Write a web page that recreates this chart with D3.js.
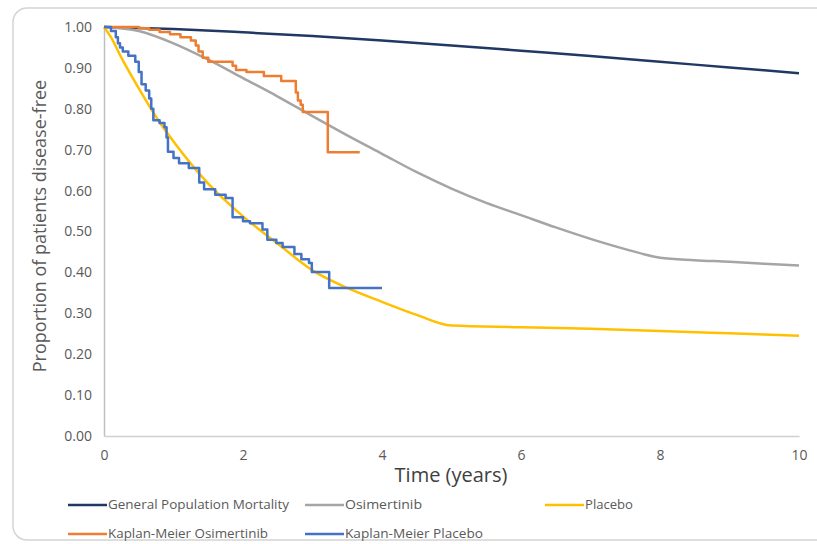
<!DOCTYPE html>
<html><head><meta charset="utf-8">
<script src="https://cdn.jsdelivr.net/npm/d3@7"></script>
<style>html,body{margin:0;padding:0;background:#fff;}svg{display:block;font-family:"Open Sans",sans-serif;}</style>
</head><body><svg id="c" width="817" height="544"></svg>
<script>
// ---- data ----
const yTicks = [0,0.1,0.2,0.3,0.4,0.5,0.6,0.7,0.8,0.9,1.0];
const xTicks = [0,2,4,6,8,10];
const genPopT = [0,1,2,3,4,5,6,7,8,9,10];
const genPopS = [1.0,0.995,0.987,0.978,0.967,0.955,0.942,0.929,0.915,0.901,0.887];
const osiT = [0,0.5,1,1.5,2,2.5,3,3.5,4,4.5,5,5.5,6,6.5,7,7.5,8,8.5,9,9.5,10];
const osiS = [1.0,0.99,0.96,0.92,0.875,0.83,0.782,0.735,0.69,0.645,0.605,0.57,0.54,0.51,0.482,0.457,0.436,0.43,0.426,0.421,0.417];
const plaT = [0,0.1,0.25,0.5,0.75,1,1.5,2,2.5,3,3.5,4,4.5,5,6,7,8,9,10];
const plaS = [1.0,0.975,0.925,0.85,0.78,0.72,0.617,0.537,0.47,0.405,0.362,0.328,0.296,0.27,0.266,0.262,0.257,0.251,0.245];
const kmOsiT = [0,0.5,0.65,0.8,0.95,1.1,1.25,1.32,1.36,1.42,1.5,1.85,1.9,2.05,2.3,2.55,2.76,2.79,2.83,2.86,3.22,3.68];
const kmOsiS = [1.0,0.997,0.993,0.988,0.982,0.975,0.967,0.955,0.94,0.925,0.915,0.905,0.895,0.89,0.88,0.868,0.84,0.82,0.81,0.792,0.694,0.694];
const kmPlaT = [0,0.1,0.17,0.2,0.23,0.27,0.35,0.45,0.5,0.54,0.6,0.65,0.68,0.71,0.8,0.87,0.9,0.92,1.0,1.08,1.22,1.37,1.44,1.6,1.75,1.85,2.0,2.1,2.28,2.35,2.48,2.57,2.74,2.84,2.95,2.99,3.24,4.0];
const kmPlaS = [1.0,0.99,0.975,0.96,0.95,0.94,0.93,0.915,0.89,0.86,0.845,0.825,0.8,0.772,0.765,0.755,0.73,0.695,0.68,0.667,0.655,0.62,0.603,0.59,0.582,0.535,0.525,0.52,0.505,0.48,0.472,0.462,0.445,0.432,0.423,0.401,0.362,0.362];
const seriesNames = ["General Population Mortality","Osimertinib","Placebo","Kaplan-Meier Osimertinib","Kaplan-Meier Placebo"];
const seriesColors = ["#1F3864","#A5A5A5","#FFC000","#ED7D31","#4472C4"];

const svg = d3.select("#c");
// frame
svg.append("rect").attr("x",13).attr("y",8).attr("width",840).attr("height",532).attr("rx",14)
  .attr("fill","none").attr("stroke","#d4d4d4").attr("stroke-width",1.5);

const x = d3.scaleLinear().domain([0,10]).range([104,799]);
const y = d3.scaleLinear().domain([0,1]).range([436,27]);

// axes
const ya = svg.append("g").attr("transform","translate(104,0)")
  .call(d3.axisLeft(y).tickValues(yTicks).tickFormat(d3.format(".2f")).tickSize(0).tickPadding(12));
ya.select(".domain").attr("stroke","#bfbfbf").attr("stroke-width",1.5);
ya.selectAll("text").attr("font-size",14).attr("fill","#595959").attr("font-family","Open Sans");
const xa = svg.append("g").attr("transform","translate(0,436)")
  .call(d3.axisBottom(x).tickValues(xTicks).tickFormat(d3.format("d")).tickSize(0).tickPadding(14));
xa.select(".domain").attr("stroke","#d0d0d0").attr("stroke-width",1.5);
xa.selectAll("text").attr("font-size",14).attr("fill","#595959").attr("font-family","Open Sans");

// titles
svg.append("text").attr("x",451).attr("y",482).attr("text-anchor","middle")
  .attr("font-size",20).attr("fill","#404040").text("Time (years)");
svg.append("text").attr("transform","translate(46,226) rotate(-90)").attr("text-anchor","middle")
  .attr("font-size",18).attr("fill","#595959").text("Proportion of patients disease-free");

// lines
const mk = (T,S)=>T.map((t,i)=>[t,S[i]]);
const smooth = d3.line().x(d=>x(d[0])).y(d=>y(d[1])).curve(d3.curveMonotoneX);
const step = d3.line().x(d=>x(d[0])).y(d=>y(d[1])).curve(d3.curveStepAfter);
const data = [
  [mk(genPopT,genPopS), smooth],
  [mk(osiT,osiS), smooth],
  [mk(plaT,plaS), smooth],
  [mk(kmOsiT,kmOsiS), step],
  [mk(kmPlaT,kmPlaS), step]
];
data.forEach((d,i)=>{
  svg.append("path").attr("d",d[1](d[0])).attr("fill","none")
    .attr("stroke",seriesColors[i]).attr("stroke-width",2.5).attr("stroke-linejoin","round");
});

// legend
const legPos = [[68,505,181],[305,505,77],[545,505,48],[68,534,160],[305,534,138]];
seriesNames.forEach((n,i)=>{
  const [lx,ly,tw] = legPos[i];
  svg.append("line").attr("x1",lx).attr("x2",lx+39).attr("y1",ly).attr("y2",ly)
    .attr("stroke",seriesColors[i]).attr("stroke-width",2.5);
  svg.append("text").attr("x",lx+40).attr("y",ly+4).attr("font-size",12).attr("fill","#595959")
    .attr("textLength",tw).attr("lengthAdjust","spacingAndGlyphs").text(n);
});
</script></body></html>
